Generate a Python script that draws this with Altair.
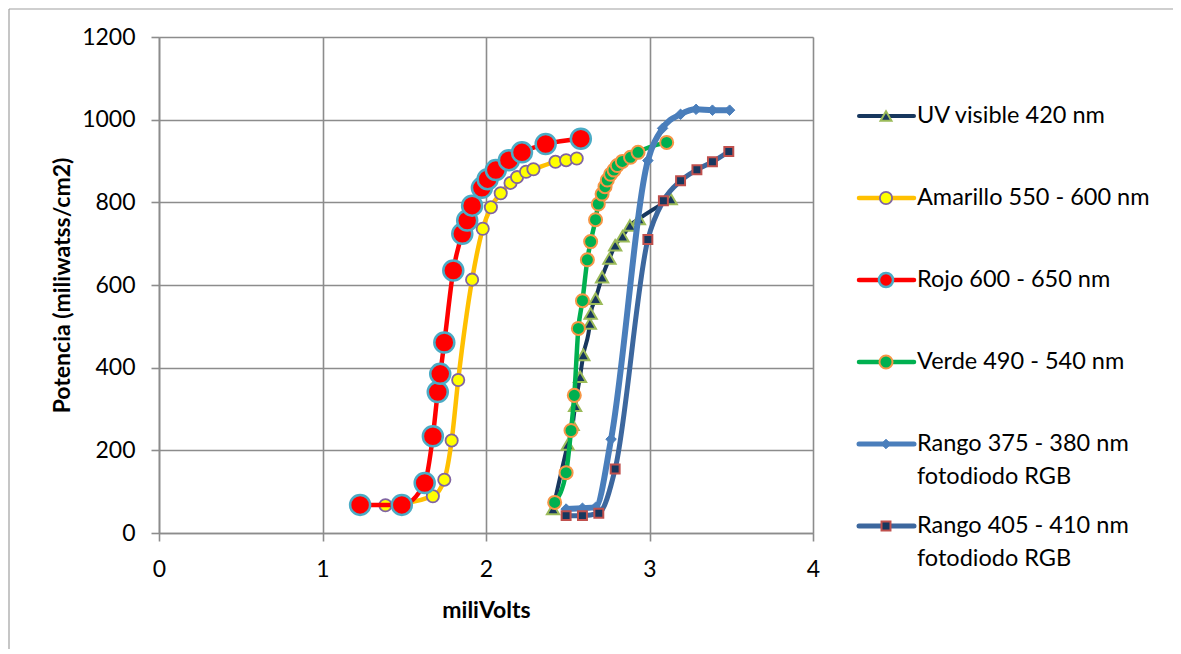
import altair as alt
import pandas as pd

# ---------------- data ----------------
series_names = [
    "UV visible 420 nm",
    "Amarillo 550 - 600 nm",
    "Rojo 600 - 650 nm",
    "Verde 490 - 540 nm",
    "Rango 375 - 380 nm fotodiodo RGB",
    "Rango 405 - 410 nm fotodiodo RGB",
]
legend_line1 = ["UV visible 420 nm", "Amarillo 550 - 600 nm", "Rojo 600 - 650 nm",
                "Verde 490 - 540 nm", "Rango 375 - 380 nm", "Rango 405 - 410 nm"]
legend_line2 = ["", "", "", "", "fotodiodo RGB", "fotodiodo RGB"]

uv_x = [2.41, 2.50, 2.53, 2.545, 2.575, 2.595, 2.635, 2.64, 2.67, 2.71, 2.755, 2.79, 2.835, 2.88, 2.935, 3.13]
uv_y = [58, 214, 262, 308, 378, 431, 507, 531, 567, 619, 664, 696, 718, 744, 760, 808]

am_x = [1.385, 1.675, 1.745, 1.79, 1.83, 1.915, 1.98, 2.03, 2.09, 2.15, 2.19, 2.245, 2.29, 2.425, 2.49, 2.555]
am_y = [67, 89, 129, 224, 370, 613, 736, 788, 822, 847, 861, 874, 880, 898, 902, 906]

ro_x = [1.23, 1.485, 1.625, 1.675, 1.705, 1.72, 1.745, 1.80, 1.855, 1.885, 1.915, 1.975, 2.01, 2.06, 2.14, 2.22, 2.365, 2.58]
ro_y = [68, 68, 121, 234, 341, 385, 461, 635, 724, 756, 792, 835, 856, 878, 902, 921, 941, 954]

ve_x = [2.42, 2.49, 2.52, 2.54, 2.565, 2.59, 2.62, 2.64, 2.67, 2.687, 2.71, 2.728, 2.742, 2.762, 2.783, 2.803, 2.834, 2.884, 2.93, 3.105]
ve_y = [74, 146, 248, 333, 495, 562, 661, 705, 758, 796, 820, 838, 854, 868, 878, 889, 899, 909, 921, 945]

r375_x = [2.49, 2.59, 2.67, 2.765, 2.99, 3.08, 3.19, 3.285, 3.385, 3.49]
r375_y = [58, 60, 62, 227, 901, 979, 1013, 1025, 1023, 1023]

r405_x = [2.49, 2.59, 2.69, 2.79, 2.99, 3.085, 3.19, 3.29, 3.385, 3.485]
r405_y = [42, 42, 48, 155, 710, 804, 852, 879, 898, 923]

xs = [uv_x, am_x, ro_x, ve_x, r375_x, r405_x]
ys = [uv_y, am_y, ro_y, ve_y, r375_y, r405_y]

# ---------------- styles ----------------
styles = [
    dict(line="#17375E", lw=4, shape="triangle-up", fill="#17375E", stroke="#9BBB59", sw=2, size=150, lsize=120),
    dict(line="#FFC000", lw=4.5, shape="circle", fill="#FFFF00", stroke="#8064A2", sw=1.8, size=150, lsize=150),
    dict(line="#FF0000", lw=4.5, shape="circle", fill="#FF0000", stroke="#4BACC6", sw=2.5, size=400, lsize=200),
    dict(line="#00B050", lw=4.5, shape="circle", fill="#00B050", stroke="#F79646", sw=2, size=170, lsize=170),
    dict(line="#4A7EBB", lw=6, shape="diamond", fill="#4A7EBB", stroke="#4A7EBB", sw=1, size=110, lsize=90),
    dict(line="#3C679E", lw=5, shape="square", fill="#17375E", stroke="#C0504D", sw=2, size=80, lsize=80),
]

FONT = "Lato"
GRID = "#8C8C8C"
W, H = 654, 496

rows = []
for name, xv, yv in zip(series_names, xs, ys):
    for a, b in zip(xv, yv):
        rows.append({"series": name, "x": a, "y": b})
df = pd.DataFrame(rows)

xscale = alt.Scale(domain=[0, 4], nice=False, zero=False)
yscale = alt.Scale(domain=[0, 1200], nice=False)

base = alt.Chart(df)

x_axis = alt.Axis(
    values=[0, 1, 2, 3, 4], format="d", title="miliVolts", labelFlush=False,
    grid=True, gridColor=GRID, gridWidth=1.6, domainColor=GRID, domainWidth=1.6,
    tickColor=GRID, tickWidth=1.6, tickSize=8, labelPadding=17,
    labelFont=FONT, labelFontSize=23, labelColor="#000000",
    titleFont=FONT, titleFontSize=23, titleFontWeight="bold", titleColor="#000000",
    titleX=W / 2, titleY=77, titleBaseline="middle", titleAlign="center",
)
y_axis = alt.Axis(
    values=[0, 200, 400, 600, 800, 1000, 1200], format="d", title="Potencia (miliwatss/cm2)",
    labelFlush=False,
    grid=True, gridColor=GRID, gridWidth=1.6, domainColor=GRID, domainWidth=1.6,
    tickColor=GRID, tickWidth=1.6, tickSize=8, labelPadding=16,
    labelFont=FONT, labelFontSize=23, labelColor="#000000",
    titleFont=FONT, titleFontSize=23, titleFontWeight="bold", titleColor="#000000",
    titleX=-97, titleY=H / 2, titleBaseline="middle", titleAlign="center", titleAngle=270,
)

layers = []
axes_layer = base.mark_point(opacity=0).encode(
    x=alt.X("x:Q", scale=xscale, axis=x_axis),
    y=alt.Y("y:Q", scale=yscale, axis=y_axis),
)
layers.append(axes_layer)

for name, st in zip(series_names, styles):
    sub = base.transform_filter(alt.datum.series == name)
    line = sub.mark_line(color=st["line"], strokeWidth=st["lw"], interpolate="monotone",
                         strokeCap="round", strokeJoin="round").encode(
        x=alt.X("x:Q", scale=xscale),
        y=alt.Y("y:Q", scale=yscale),
        order="x:Q",
    )
    pts = sub.mark_point(shape=st["shape"], filled=True, fill=st["fill"], stroke=st["stroke"],
                         strokeWidth=st["sw"], size=st["size"], opacity=1).encode(
        x=alt.X("x:Q", scale=xscale),
        y=alt.Y("y:Q", scale=yscale),
    )
    layers.append(line)
    layers.append(pts)

data_chart = alt.layer(*layers)

# ---------------- legend (drawn as marks) ----------------
leg = pd.DataFrame({
    "series": series_names,
    "idx": list(range(len(series_names))),
    "l1": legend_line1,
    "l2": legend_line2,
})
leg_y = alt.Y("idx:Q", scale=alt.Scale(domain=[0, 5], range=[79, 489]), axis=None)
leg_layers = []
for name, st in zip(series_names, styles):
    one = alt.Chart(leg).transform_filter(alt.datum.series == name)
    leg_layers.append(one.mark_rule(color=st["line"], strokeWidth=min(st["lw"], 5),
                                    strokeCap="round").encode(
        x=alt.value(W + 46), x2=alt.value(W + 101), y=leg_y))
    leg_layers.append(one.mark_point(shape=st["shape"], filled=True, fill=st["fill"], stroke=st["stroke"],
                                     strokeWidth=st["sw"], size=st["lsize"], opacity=1).encode(
        x=alt.value(W + 73), y=leg_y))
leg_base = alt.Chart(leg)
leg_layers.append(leg_base.mark_text(align="left", baseline="middle", font=FONT, fontSize=23.5,
                                     color="#000000").encode(
    x=alt.value(W + 104), y=leg_y, text="l1:N"))
leg_layers.append(leg_base.mark_text(align="left", baseline="middle", font=FONT, fontSize=23.5,
                                     color="#000000", dy=33).encode(
    x=alt.value(W + 104), y=leg_y, text="l2:N"))
# outer frame of the chart (top and left edges visible in the window)
frame = alt.Chart(leg.head(1))
leg_layers.append(frame.mark_rule(color="#A0A0A0", strokeWidth=1.2).encode(
    x=alt.value(-150), x2=alt.value(1100), y=alt.value(-28)))
leg_layers.append(frame.mark_rule(color="#A0A0A0", strokeWidth=1.2).encode(
    x=alt.value(-150), y=alt.value(-28), y2=alt.value(720)))
legend_chart = alt.layer(*leg_layers)

chart = alt.layer(data_chart, legend_chart).resolve_scale(
    x="independent", y="independent"
).properties(
    width=W, height=H,
    padding={"left": 151, "top": 29, "right": 360, "bottom": 116},
    autosize=alt.AutoSizeParams(type="none"),
).configure_view(strokeWidth=0).configure(background="white")

chart.save("out.html", embed_options={"renderer": "svg", "actions": False})
